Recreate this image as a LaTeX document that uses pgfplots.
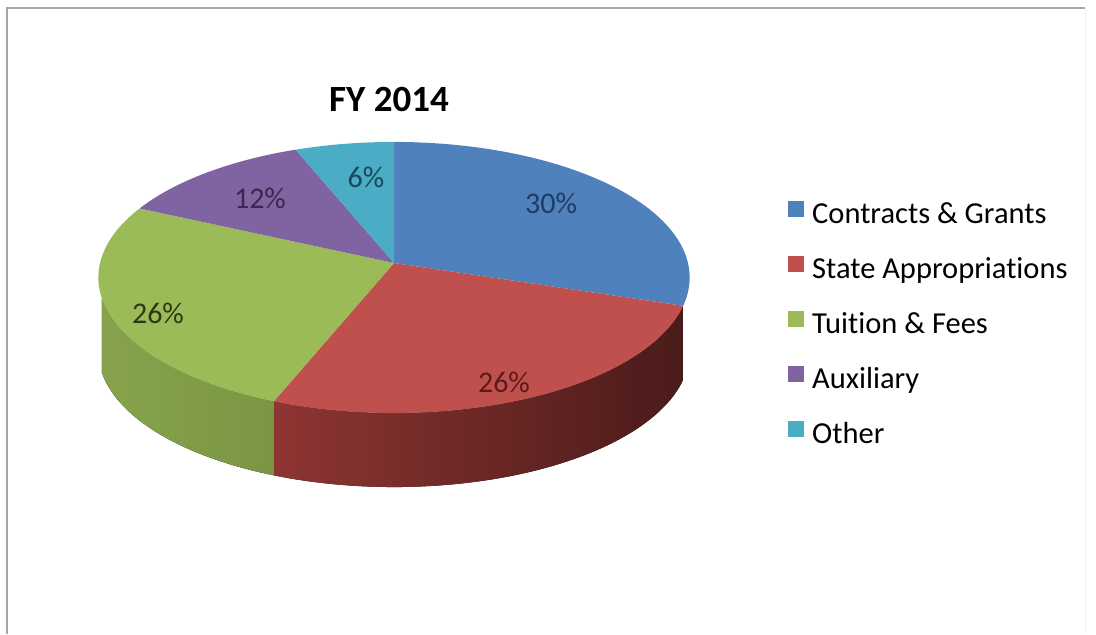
\documentclass[border=0pt]{standalone}
\usepackage{pgfplots}
\pgfplotsset{compat=1.18}
\usepackage{pgfplotstable}
\usepackage{fontspec}
\setmainfont{Carlito}[Ligatures={TeX,NoCommon}]

\definecolor{c0}{HTML}{4F81BD}
\definecolor{c1}{HTML}{C0504D}
\definecolor{c2}{HTML}{9BBB59}
\definecolor{c3}{HTML}{8064A2}
\definecolor{c4}{HTML}{4BACC6}
\definecolor{l0}{HTML}{1F3C64}
\definecolor{l1}{HTML}{5C1A19}
\definecolor{l2}{HTML}{2C3A12}
\definecolor{l3}{HTML}{38274F}
\definecolor{l4}{HTML}{174A58}
\definecolor{sL0}{HTML}{34577F}\definecolor{sR0}{HTML}{2A4769}
\definecolor{sL1}{HTML}{8E3532}\definecolor{sR1}{HTML}{4A1B1A}
\definecolor{sL2}{HTML}{86A34C}\definecolor{sR2}{HTML}{7A9643}
\definecolor{sL3}{HTML}{5A4676}\definecolor{sR3}{HTML}{4A3A62}
\definecolor{sL4}{HTML}{347A8C}\definecolor{sR4}{HTML}{2B6675}

% share (percent) and label position of each slice
\pgfplotstableread{
value lx ly
30 551 431
26 504 252
26 158 321
12 260 436
6 366 457
}\piedata

% perspective view of the disc: apex (ax,ay), radii R, r, perspective p
\def\ax{394}\def\ay{371}\def\R{294}\def\r{134}\def\p{0.107}\def\dep{74}
% silhouette of the side wall (ellipse parameters)
\def\silR{-12.3}\def\silL{-171}
% resulting ellipse: centre offset yc, semi axes ea, eb
\pgfmathsetmacro\yc{(\r/(1+\p)-\r/(1-\p))/2}
\pgfmathsetmacro\eb{(\r/(1+\p)+\r/(1-\p))/2}
\pgfmathsetmacro\ea{\R/sqrt(1-\p*\p)}
\pgfmathsetmacro\ecx{\ax}
\pgfmathsetmacro\ecy{\ay+\yc}

\def\acc{90}\def\phiacc{90}
\pgfplotsforeachungrouped \i in {0,1,2,3,4}{%
  \pgfplotstablegetelem{\i}{value}\of\piedata
  \let\val\pgfplotsretval
  \expandafter\xdef\csname val\i\endcsname{\val}%
  \pgfmathsetmacro\endang{\acc-3.6*\val}%
  % ellipse parameter of the end angle
  \pgfmathsetmacro\dd{1+\p*sin(\endang)}%
  \pgfmathsetmacro\xx{\R*cos(\endang)/\dd}%
  \pgfmathsetmacro\yy{\r*sin(\endang)/\dd}%
  \pgfmathsetmacro\phiraw{atan2((\yy-\yc)/\eb,\xx/\ea)}%
  \pgfmathsetmacro\phiE{\phiraw>\phiacc ? \phiraw-360 : \phiraw}%
  \pgfmathsetmacro\phiE{\phiE>\phiacc ? \phiE-360 : \phiE}%
  \expandafter\xdef\csname aS\i\endcsname{\phiacc}%
  \expandafter\xdef\csname aE\i\endcsname{\phiE}%
  \pgfmathsetmacro\px{\ecx+\ea*cos(\phiacc)}%
  \pgfmathsetmacro\py{\ecy+\eb*sin(\phiacc)}%
  \expandafter\xdef\csname pX\i\endcsname{\px}%
  \expandafter\xdef\csname pY\i\endcsname{\py}%
  \pgfmathsetmacro\sideS{min(\phiacc,\silR)}%
  \pgfmathsetmacro\sideE{max(\phiE,\silL)}%
  \pgfmathtruncatemacro\vis{\sideS>\sideE+0.5}%
  \expandafter\xdef\csname sS\i\endcsname{\sideS}%
  \expandafter\xdef\csname sE\i\endcsname{\sideE}%
  \expandafter\xdef\csname vis\i\endcsname{\vis}%
  \pgfmathsetmacro\qx{\ecx+\ea*cos(\sideS)}%
  \pgfmathsetmacro\qy{\ecy+\eb*sin(\sideS)}%
  \expandafter\xdef\csname qX\i\endcsname{\qx}%
  \expandafter\xdef\csname qY\i\endcsname{\qy}%
  \pgfplotstablegetelem{\i}{lx}\of\piedata
  \expandafter\xdef\csname lx\i\endcsname{\pgfplotsretval}%
  \pgfplotstablegetelem{\i}{ly}\of\piedata
  \expandafter\xdef\csname ly\i\endcsname{\pgfplotsretval}%
  \xdef\acc{\endang}%
  \xdef\phiacc{\phiE}%
}

\begin{document}
\begin{tikzpicture}
\begin{axis}[
  scale only axis, width=1096bp, height=634bp,
  xmin=0, xmax=1096, ymin=0, ymax=634,
  hide axis, clip=false,
  legend cell align=left,
  legend image code/.code={\path[#1] (0bp,-1bp) rectangle (16bp,15bp);},
  legend style={at={(axis cs:788,434)}, anchor=north west, draw=none, fill=none,
    font=\fontsize{30.5bp}{36bp}\selectfont, row sep=23bp, inner sep=0pt,
    nodes={inner sep=2bp, text height=21bp, text depth=7bp},
    /tikz/every odd column/.append style={column sep=6bp}},
]
\path (axis cs:0,0) rectangle (axis cs:1096,634);
\draw[line width=2bp, color=gray!70] (axis cs:7,0) -- (axis cs:7,626) -- (axis cs:1085,626);
\draw[line width=1bp, color=gray!12] (axis cs:1085,626) -- (axis cs:1085,0);

% sides of the pie (front, between the silhouette points)
\pgfplotsinvokeforeach{0,1,2,3,4}{%
  \ifnum\csname vis#1\endcsname=1
  \fill[left color=sL#1, right color=sR#1]
    (axis cs:\csname qX#1\endcsname,\csname qY#1\endcsname)
    arc[start angle=\csname sS#1\endcsname, end angle=\csname sE#1\endcsname, x radius=\ea bp, y radius=\eb bp]
    -- ++(0bp,-\dep bp)
    arc[start angle=\csname sE#1\endcsname, end angle=\csname sS#1\endcsname, x radius=\ea bp, y radius=\eb bp]
    -- cycle;
  \fi
}
% top faces
\pgfplotsinvokeforeach{0,1,2,3,4}{%
  \fill[c#1] (axis cs:\ax,\ay)
    -- (axis cs:\csname pX#1\endcsname,\csname pY#1\endcsname)
    arc[start angle=\csname aS#1\endcsname, end angle=\csname aE#1\endcsname, x radius=\ea bp, y radius=\eb bp]
    -- cycle;
}
% data labels
\pgfplotsinvokeforeach{0,1,2,3,4}{%
  \node[text=l#1, font=\fontsize{30bp}{36bp}\selectfont] at (axis cs:\csname lx#1\endcsname,\csname ly#1\endcsname) {\csname val#1\endcsname\%};
}
\node[font=\bfseries\fontsize{37bp}{44bp}\selectfont] at (axis cs:389,534) {FY 2014};

\addlegendimage{fill=c0,draw=none}
\addlegendimage{fill=c1,draw=none}
\addlegendimage{fill=c2,draw=none}
\addlegendimage{fill=c3,draw=none}
\addlegendimage{fill=c4,draw=none}
\legend{Contracts \& Grants, State Appropriations, Tuition \& Fees, Auxiliary, Other}
\end{axis}
\end{tikzpicture}
\end{document}
